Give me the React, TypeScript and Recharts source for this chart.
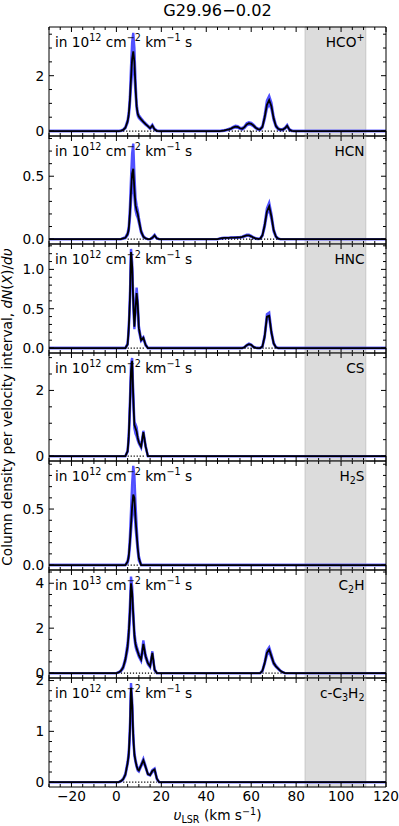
import React from "react";
import { ComposedChart, Line, Area, XAxis, YAxis, ReferenceArea } from "recharts";

// velocity channels, km/s
const V_LOW = [0, 1, 2, 3, 4, 5, 5.5, 6, 6.5, 7, 7.5, 8, 8.5, 9, 9.5, 10, 11, 12, 13, 14, 15, 16, 17, 18, 19, 20];
const V_HIGH = [45, 46, 47, 48, 49, 50, 51, 52, 53, 54, 55, 56, 57, 58, 59, 60, 61, 62, 63, 64, 65, 66, 67, 68, 69, 70, 71, 72, 73, 74, 75, 76, 77, 78, 79, 80];

// HCO+
const HCOP_1 = [0, 0, 0.01, 0.04, 0.12, 0.35, 0.6, 1.1, 1.9, 2.6, 2.88, 2.5, 1.6, 0.9, 0.62, 0.52, 0.42, 0.33, 0.25, 0.18, 0.1, 0.2, 0.06, 0.01, 0, 0];
const HCOP_1_HI = [0, 0, 0.02, 0.05, 0.14, 0.4, 0.68, 1.25, 2.3, 3.2, 3.55, 3.0, 1.85, 1.0, 0.68, 0.57, 0.46, 0.36, 0.28, 0.2, 0.12, 0.23, 0.08, 0.02, 0, 0];
const HCOP_1_LO = [0, 0, 0, 0.03, 0.1, 0.3, 0.52, 0.95, 1.6, 2.1, 2.2, 2.05, 1.35, 0.8, 0.56, 0.47, 0.38, 0.3, 0.22, 0.16, 0.08, 0.17, 0.04, 0, 0, 0];
const HCOP_2 = [0, 0, 0.01, 0.02, 0.04, 0.06, 0.09, 0.13, 0.16, 0.15, 0.1, 0.08, 0.14, 0.24, 0.28, 0.26, 0.2, 0.12, 0.07, 0.06, 0.15, 0.5, 0.95, 1.12, 0.9, 0.45, 0.18, 0.08, 0.05, 0.05, 0.1, 0.19, 0.05, 0.01, 0, 0];
const HCOP_2_HI = [0, 0, 0.02, 0.03, 0.05, 0.08, 0.11, 0.15, 0.19, 0.18, 0.12, 0.1, 0.17, 0.28, 0.32, 0.3, 0.23, 0.14, 0.09, 0.08, 0.18, 0.58, 1.1, 1.27, 1.02, 0.52, 0.22, 0.1, 0.07, 0.07, 0.12, 0.22, 0.07, 0.02, 0, 0];
const HCOP_2_LO = [0, 0, 0, 0.01, 0.03, 0.04, 0.07, 0.11, 0.13, 0.12, 0.08, 0.06, 0.11, 0.2, 0.24, 0.22, 0.17, 0.1, 0.05, 0.04, 0.12, 0.43, 0.82, 0.98, 0.8, 0.39, 0.15, 0.06, 0.03, 0.03, 0.08, 0.16, 0.03, 0, 0, 0];
const HCOP_DOTS = [[3, 19], [50, 78]];

// HCN
const HCN_1 = [0, 0, 0, 0.005, 0.01, 0.04, 0.08, 0.2, 0.38, 0.52, 0.56, 0.4, 0.27, 0.23, 0.2, 0.15, 0.06, 0.02, 0.005, 0, 0, 0.01, 0.03, 0.005, 0, 0];
const HCN_1_HI = [0, 0, 0, 0.008, 0.015, 0.05, 0.1, 0.25, 0.48, 0.68, 0.76, 0.52, 0.33, 0.27, 0.23, 0.17, 0.07, 0.025, 0.008, 0, 0, 0.015, 0.035, 0.008, 0, 0];
const HCN_1_LO = [0, 0, 0, 0.003, 0.007, 0.03, 0.065, 0.16, 0.3, 0.42, 0.45, 0.33, 0.23, 0.19, 0.17, 0.13, 0.05, 0.015, 0.003, 0, 0, 0.006, 0.025, 0.003, 0, 0];
const HCN_2 = [0, 0.004, 0.007, 0.009, 0.01, 0.01, 0.011, 0.012, 0.012, 0.013, 0.014, 0.017, 0.024, 0.03, 0.03, 0.022, 0.012, 0.005, 0.002, 0.004, 0.03, 0.11, 0.22, 0.26, 0.18, 0.07, 0.02, 0.004, 0, 0, 0, 0, 0, 0, 0, 0];
const HCN_2_HI = [0, 0.006, 0.009, 0.011, 0.012, 0.012, 0.013, 0.014, 0.015, 0.016, 0.017, 0.02, 0.028, 0.034, 0.034, 0.026, 0.015, 0.007, 0.003, 0.006, 0.035, 0.125, 0.245, 0.29, 0.2, 0.08, 0.025, 0.006, 0, 0, 0, 0, 0, 0, 0, 0];
const HCN_2_LO = [0, 0.002, 0.005, 0.007, 0.008, 0.008, 0.009, 0.01, 0.01, 0.011, 0.012, 0.014, 0.02, 0.026, 0.026, 0.018, 0.009, 0.003, 0.001, 0.002, 0.025, 0.095, 0.2, 0.235, 0.16, 0.06, 0.015, 0.002, 0, 0, 0, 0, 0, 0, 0, 0];
const HCN_DOTS = [[5, 13], [47, 72]];

// HNC
const HNC_1 = [0, 0, 0, 0, 0, 0.05, 0.25, 0.6, 1.22, 1.05, 0.6, 0.27, 0.5, 0.7, 0.55, 0.25, 0.1, 0.13, 0.04, 0, 0, 0, 0, 0, 0, 0];
const HNC_1_HI = [0, 0, 0, 0, 0, 0.06, 0.28, 0.64, 1.26, 1.1, 0.65, 0.3, 0.56, 0.77, 0.6, 0.28, 0.11, 0.14, 0.05, 0, 0, 0, 0, 0, 0, 0];
const HNC_1_LO = [0, 0, 0, 0, 0, 0.04, 0.22, 0.56, 1.17, 1.0, 0.55, 0.24, 0.45, 0.64, 0.5, 0.22, 0.09, 0.12, 0.03, 0, 0, 0, 0, 0, 0, 0];
const HNC_2 = [0, 0, 0, 0, 0, 0, 0, 0, 0, 0, 0, 0, 0.01, 0.035, 0.05, 0.04, 0.015, 0.003, 0, 0, 0.02, 0.15, 0.4, 0.41, 0.2, 0.06, 0.01, 0, 0, 0, 0, 0, 0, 0, 0, 0];
const HNC_2_HI = [0, 0, 0, 0, 0, 0, 0, 0, 0, 0, 0, 0, 0.012, 0.04, 0.056, 0.045, 0.018, 0.004, 0, 0, 0.025, 0.17, 0.43, 0.45, 0.22, 0.07, 0.012, 0, 0, 0, 0, 0, 0, 0, 0, 0];
const HNC_2_LO = [0, 0, 0, 0, 0, 0, 0, 0, 0, 0, 0, 0, 0.008, 0.03, 0.044, 0.035, 0.012, 0.002, 0, 0, 0.015, 0.13, 0.37, 0.38, 0.18, 0.05, 0.008, 0, 0, 0, 0, 0, 0, 0, 0, 0];
const HNC_DOTS = [[5, 13], [57, 71]];

// CS
const CS_1 = [0, 0, 0, 0, 0, 0.15, 0.6, 1.5, 2.6, 2.9, 1.8, 0.95, 0.85, 0.75, 0.55, 0.42, 0.28, 0.73, 0.3, 0, 0, 0, 0, 0, 0, 0];
const CS_1_HI = [0, 0, 0, 0, 0, 0.17, 0.68, 1.65, 2.8, 2.99, 1.95, 1.05, 0.97, 0.88, 0.62, 0.46, 0.3, 0.77, 0.33, 0, 0, 0, 0, 0, 0, 0];
const CS_1_LO = [0, 0, 0, 0, 0, 0.13, 0.52, 1.35, 2.4, 2.75, 1.65, 0.85, 0.68, 0.6, 0.48, 0.38, 0.25, 0.68, 0.27, 0, 0, 0, 0, 0, 0, 0];
const CS_DOTS = [[5, 13]];

// H2S
const H2S_1 = [0, 0, 0, 0, 0, 0.03, 0.08, 0.2, 0.36, 0.52, 0.63, 0.6, 0.42, 0.28, 0.15, 0.06, 0, 0, 0, 0, 0, 0, 0, 0, 0, 0];
const H2S_1_HI = [0, 0, 0, 0, 0, 0.04, 0.1, 0.25, 0.48, 0.72, 0.885, 0.8, 0.55, 0.35, 0.19, 0.08, 0, 0, 0, 0, 0, 0, 0, 0, 0, 0];
const H2S_1_LO = [0, 0, 0, 0, 0, 0.02, 0.06, 0.16, 0.3, 0.43, 0.52, 0.5, 0.34, 0.23, 0.12, 0.04, 0, 0, 0, 0, 0, 0, 0, 0, 0, 0];
const H2S_DOTS = [[5, 10]];

// C2H
const C2H_1 = [0, 0.03, 0.1, 0.25, 0.6, 1.2, 1.8, 2.7, 4.0, 3.6, 2.6, 1.7, 1.3, 1.1, 0.95, 0.8, 0.6, 1.3, 0.75, 0.45, 0.3, 0.9, 0.15, 0, 0, 0];
const C2H_1_HI = [0, 0.04, 0.12, 0.3, 0.68, 1.35, 2.0, 3.0, 4.3, 3.85, 2.8, 1.85, 1.42, 1.2, 1.03, 0.87, 0.66, 1.45, 0.82, 0.5, 0.34, 0.97, 0.18, 0, 0, 0];
const C2H_1_LO = [0, 0.02, 0.08, 0.2, 0.52, 1.05, 1.6, 2.4, 3.7, 3.35, 2.4, 1.55, 1.18, 1.0, 0.87, 0.73, 0.54, 1.17, 0.68, 0.4, 0.26, 0.83, 0.12, 0, 0, 0];
const C2H_2 = [0, 0, 0, 0, 0, 0, 0, 0, 0, 0, 0, 0, 0, 0, 0, 0, 0, 0, 0, 0, 0.1, 0.45, 0.9, 1.05, 0.75, 0.45, 0.3, 0.2, 0.1, 0.04, 0, 0, 0, 0, 0, 0];
const C2H_2_HI = [0, 0, 0, 0, 0, 0, 0, 0, 0, 0, 0, 0, 0, 0, 0, 0, 0, 0, 0, 0, 0.12, 0.5, 1.0, 1.15, 0.83, 0.5, 0.33, 0.22, 0.11, 0.05, 0, 0, 0, 0, 0, 0];
const C2H_2_LO = [0, 0, 0, 0, 0, 0, 0, 0, 0, 0, 0, 0, 0, 0, 0, 0, 0, 0, 0, 0, 0.08, 0.4, 0.8, 0.95, 0.68, 0.4, 0.27, 0.18, 0.09, 0.03, 0, 0, 0, 0, 0, 0];
const C2H_DOTS = [[2, 17], [65, 74]];

// c-C3H2
const C3H2_1 = [0, 0, 0.02, 0.06, 0.15, 0.38, 0.55, 1.0, 1.86, 1.55, 0.9, 0.55, 0.42, 0.32, 0.25, 0.23, 0.33, 0.43, 0.3, 0.16, 0.14, 0.22, 0.25, 0.07, 0, 0];
const C3H2_1_HI = [0, 0, 0.025, 0.07, 0.17, 0.41, 0.6, 1.06, 1.95, 1.62, 0.95, 0.58, 0.45, 0.34, 0.27, 0.25, 0.35, 0.46, 0.32, 0.17, 0.15, 0.24, 0.27, 0.08, 0, 0];
const C3H2_1_LO = [0, 0, 0.015, 0.05, 0.13, 0.35, 0.5, 0.94, 1.78, 1.48, 0.85, 0.52, 0.39, 0.3, 0.23, 0.21, 0.31, 0.4, 0.28, 0.15, 0.13, 0.2, 0.23, 0.06, 0, 0];
const C3H2_DOTS = [[3, 18]];

const FIG_W = 399;
const PLOT_LEFT = 49;
const PLOT_RIGHT = 386;
const PLOT_BOTTOM = 787;
const FONT = "'DejaVu Sans', sans-serif";
const BLACK = "#000";

function buildRows(a, aHi, aLo, b, bHi, bLo, dots) {
  const rows = [];
  const add = (v, y, hi, lo) =>
    rows.push({
      v,
      y,
      band: [lo, hi],
      dot: dots.some(([s, e]) => v >= s && v <= e) ? 0 : null,
    });
  add(-30, 0, 0, 0);
  V_LOW.forEach((v, i) => add(v, a[i], aHi[i], aLo[i]));
  V_HIGH.forEach((v, i) => {
    const y = b ? b[i] : 0;
    add(v, y, bHi ? bHi[i] : y, bLo ? bLo[i] : y);
  });
  add(120, 0, 0, 0);
  return rows;
}

function makeTicks(lo, hi, step) {
  const out = [];
  for (let k = Math.ceil(lo / step - 1e-9); k * step <= hi + 1e-9; k++) out.push(Number((k * step).toFixed(4)));
  return out;
}

const X_TICKS = makeTicks(-30, 120, 5);

const isMajor = (v, step) => Math.abs(v / step - Math.round(v / step)) < 1e-6;
const fmtNum = (v, dec) => {
  const s = v.toFixed(dec);
  return s.startsWith("-") ? "\u2212" + s.slice(1) : s;
};

const SUP = { fontSize: 9.6 };

const PANELS = [
  {
    top: 27, exp: "12", domain: [-0.179, 3.76], major: 2, minor: 0.5, dec: 0,
    label: <>HCO<tspan dy={-5.5} {...SUP}>+</tspan></>,
    rows: buildRows(HCOP_1, HCOP_1_HI, HCOP_1_LO, HCOP_2, HCOP_2_HI, HCOP_2_LO, HCOP_DOTS),
  },
  {
    top: 136, exp: "12", domain: [-0.039, 0.82], major: 0.5, minor: 0.1, dec: 1,
    label: <>HCN</>,
    rows: buildRows(HCN_1, HCN_1_HI, HCN_1_LO, HCN_2, HCN_2_HI, HCN_2_LO, HCN_DOTS),
  },
  {
    top: 244, exp: "12", domain: [-0.063, 1.323], major: 0.5, minor: 0.1, dec: 1,
    label: <>HNC</>,
    rows: buildRows(HNC_1, HNC_1_HI, HNC_1_LO, HNC_2, HNC_2_HI, HNC_2_LO, HNC_DOTS),
  },
  {
    top: 353, exp: "12", domain: [-0.15, 3.14], major: 2, minor: 0.5, dec: 0,
    label: <>CS</>,
    rows: buildRows(CS_1, CS_1_HI, CS_1_LO, null, null, null, CS_DOTS),
  },
  {
    top: 461, exp: "12", domain: [-0.044, 0.929], major: 0.5, minor: 0.1, dec: 1,
    label: <>H<tspan dy={3} {...SUP}>2</tspan><tspan dy={-3}>S</tspan></>,
    rows: buildRows(H2S_1, H2S_1_HI, H2S_1_LO, null, null, null, H2S_DOTS),
  },
  {
    top: 570, exp: "13", domain: [-0.219, 4.59], major: 2, minor: 0.5, dec: 0,
    label: <>C<tspan dy={3} {...SUP}>2</tspan><tspan dy={-3}>H</tspan></>,
    rows: buildRows(C2H_1, C2H_1_HI, C2H_1_LO, C2H_2, C2H_2_HI, C2H_2_LO, C2H_DOTS),
  },
  {
    top: 678, exp: "12", domain: [-0.095, 2.05], major: 1, minor: 0.2, dec: 0,
    label: <>c-C<tspan dy={3} {...SUP}>3</tspan><tspan dy={-3}>H</tspan><tspan dy={3} {...SUP}>2</tspan></>,
    rows: buildRows(C3H2_1, C3H2_1_HI, C3H2_1_LO, null, null, null, C3H2_DOTS),
  },
];

const xTick = (side, labels) => (p) => {
  const v = p.payload.value;
  const major = isMajor(v, 20);
  const dir = side === "bottom" ? -1 : 1;
  return (
    <g>
      <line x1={p.x} x2={p.x} y1={p.y} y2={p.y + dir * (major ? 5 : 3)} stroke={BLACK} strokeWidth={1} />
      {labels && major && (
        <text x={p.x} y={p.y + 13.5} textAnchor="middle" fontSize={13.7} fill={BLACK}>
          {fmtNum(v, 0)}
        </text>
      )}
    </g>
  );
};

const yTick = (side, step, dec) => (p) => {
  const v = p.payload.value;
  const major = isMajor(v, step);
  const dir = side === "left" ? 1 : -1;
  return (
    <g>
      <line x1={p.x} x2={p.x + dir * (major ? 5 : 3)} y1={p.y} y2={p.y} stroke={BLACK} strokeWidth={1} />
      {side === "left" && major && (
        <text x={p.x - 4.8} y={p.y} dy="0.36em" textAnchor="end" fontSize={13.7} fill={BLACK}>
          {fmtNum(v, dec)}
        </text>
      )}
    </g>
  );
};

const AXIS_LINE = { stroke: BLACK, strokeWidth: 1 };

// axes need a non-zero size to be drawn, so each gets 1px and the chart is shifted up by 1px
function Panel({ cfg, index }) {
  const last = index === PANELS.length - 1;
  const bottom = last ? PLOT_BOTTOM : PANELS[index + 1].top;
  const h = bottom - cfg.top;
  const extra = last ? 40 : 0;
  const yTicks = makeTicks(cfg.domain[0], cfg.domain[1], cfg.minor);
  return (
    <div style={{ position: "absolute", left: 0, top: cfg.top - 1 }}>
      <ComposedChart
        width={FIG_W}
        height={h + 2 + extra}
        data={cfg.rows}
        margin={{ top: 0, right: FIG_W - PLOT_RIGHT - 1, bottom: extra, left: PLOT_LEFT - 1 }}
      >
        <XAxis xAxisId="b" dataKey="v" type="number" domain={[-30, 120]} allowDataOverflow ticks={X_TICKS} interval={0}
          height={1} tickSize={0} tickMargin={0} tickLine={false} axisLine={AXIS_LINE} tick={xTick("bottom", last)} />
        <XAxis xAxisId="t" orientation="top" dataKey="v" type="number" domain={[-30, 120]} allowDataOverflow ticks={X_TICKS} interval={0}
          height={1} tickSize={0} tickMargin={0} tickLine={false} axisLine={AXIS_LINE} tick={xTick("top", false)} />
        <YAxis yAxisId="l" type="number" domain={cfg.domain} allowDataOverflow ticks={yTicks} interval={0}
          width={1} tickSize={0} tickMargin={0} tickLine={false} axisLine={AXIS_LINE} tick={yTick("left", cfg.major, cfg.dec)} />
        <YAxis yAxisId="r" orientation="right" type="number" domain={cfg.domain} allowDataOverflow ticks={yTicks} interval={0}
          width={1} tickSize={0} tickMargin={0} tickLine={false} axisLine={AXIS_LINE} tick={yTick("right", cfg.major, cfg.dec)} />
        <ReferenceArea xAxisId="b" yAxisId="l" x1={84} x2={111} fill="#dcdcdc" fillOpacity={1} stroke="#c6c6c6" strokeWidth={1} />
        <Area xAxisId="b" yAxisId="l" dataKey="band" type="linear" stroke="#5050ff" strokeWidth={2.4}
          fill="#3535ff" fillOpacity={0.7} dot={false} activeDot={false} isAnimationActive={false} />
        <Line xAxisId="b" yAxisId="l" dataKey="dot" type="linear" stroke={BLACK} strokeWidth={1.2} strokeDasharray="1.2 1.8"
          dot={false} activeDot={false} connectNulls={false} isAnimationActive={false} />
        <Line xAxisId="b" yAxisId="l" dataKey="y" type="linear" stroke={BLACK} strokeWidth={1.8}
          dot={false} activeDot={false} isAnimationActive={false} />
      </ComposedChart>
    </div>
  );
}

function Overlay() {
  const mid = (PLOT_LEFT + PLOT_RIGHT) / 2;
  return (
    <svg width={FIG_W} height={826} style={{ position: "absolute", left: 0, top: 0, pointerEvents: "none" }}>
      <text x={mid} y={15.5} textAnchor="middle" fontSize={16.2}>G29.96{"\u2212"}0.02</text>
      {PANELS.map((p, i) => (
        <g key={i}>
          <text x={55} y={p.top + 19.5} fontSize={13.7}>
            in 10<tspan dy={-5.5} {...SUP}>{p.exp}</tspan>
            <tspan dy={5.5}> cm</tspan><tspan dy={-5.5} {...SUP}>{"\u2212"}2</tspan>
            <tspan dy={5.5}> km</tspan><tspan dy={-5.5} {...SUP}>{"\u2212"}1</tspan>
            <tspan dy={5.5}> s</tspan>
          </text>
          <text x={364.5} y={p.top + 19.5} fontSize={13.7} textAnchor="end">{p.label}</text>
        </g>
      ))}
      <text transform={`translate(12, ${(27 + PLOT_BOTTOM) / 2}) rotate(-90)`} textAnchor="middle" fontSize={13.7}>
        Column density per velocity interval, <tspan fontStyle="italic">dN</tspan>(<tspan fontStyle="italic">X</tspan>)/<tspan fontStyle="italic">d{"\u03c5"}</tspan>
      </text>
      <text x={mid} y={820} textAnchor="middle" fontSize={13.7}>
        <tspan fontStyle="italic">{"\u03c5"}</tspan><tspan dy={3} {...SUP}>LSR</tspan>
        <tspan dy={-3}> (km s</tspan><tspan dy={-5.5} {...SUP}>{"\u2212"}1</tspan><tspan dy={5.5}>)</tspan>
      </text>
    </svg>
  );
}

export default function App() {
  return (
    <div style={{ position: "absolute", left: 0, top: 0, width: FIG_W, height: 826, background: "#fff", fontFamily: FONT }}>
      <style>{`.recharts-surface{overflow:visible} text{font-family:${FONT};fill:#000}`}</style>
      {PANELS.map((cfg, i) => (
        <Panel key={i} cfg={cfg} index={i} />
      ))}
      <Overlay />
    </div>
  );
}
